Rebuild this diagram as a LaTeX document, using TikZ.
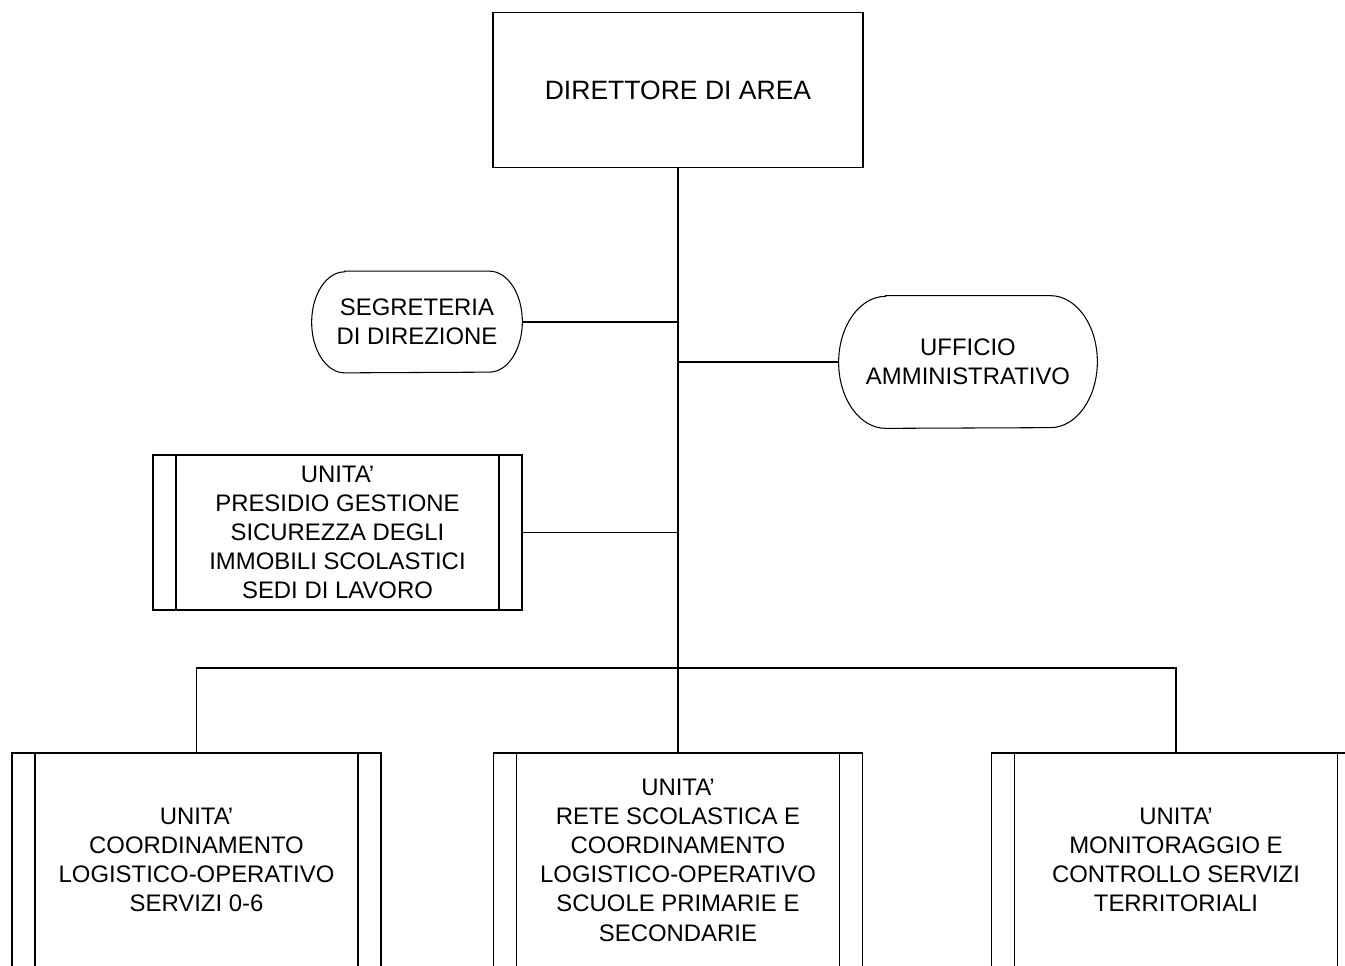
\documentclass[tikz,border=0pt]{standalone}
\usepackage{fontspec}
\setmainfont{Liberation Sans}
\begin{document}
\begin{tikzpicture}[
    every node/.style={align=center, font=\fontsize{13.6}{16.6}\selectfont},
    ufficio/.style={draw, line width=0.6pt, minimum width=#1, inner sep=0pt},
    capo/.style={ufficio=7.4cm, minimum height=3.1cm, font=\fontsize{15.1}{18}\selectfont},
    ovale/.style={inner sep=0pt},
    bordo/.style={line width=0.6pt},
    unita/.style={ufficio=7.38cm, minimum height=#1,
                  path picture={
                    \draw[bordo] ([xshift=0.46cm]path picture bounding box.north west)
                        -- ([xshift=0.46cm]path picture bounding box.south west);
                    \draw[bordo] ([xshift=-0.46cm]path picture bounding box.north east)
                        -- ([xshift=-0.46cm]path picture bounding box.south east);}},
    linea/.style={line width=1.1pt}]
\clip (0,0) rectangle (26.9,-19.32);

\node[capo](dir) at (13.56,-1.8) {DIRETTORE DI AREA};
\node[ovale, minimum width=4.2cm, minimum height=2.02cm](seg) at (8.34,-6.44)
    {SEGRETERIA\\DI DIREZIONE};
\node[ovale, minimum width=5.16cm, minimum height=2.64cm](amm) at (19.36,-7.24)
    {UFFICIO\\AMMINISTRATIVO};
\node[unita=3.1cm](pres) at (6.75,-10.65)
    {UNITA’\\PRESIDIO GESTIONE\\SICUREZZA DEGLI\\IMMOBILI SCOLASTICI\\SEDI DI LAVORO};

\node[unita=4.28cm](u1) at (3.93,-17.2)
    {UNITA’\\COORDINAMENTO\\LOGISTICO-OPERATIVO\\SERVIZI 0-6};
\node[unita=4.28cm](u2) at (13.56,-17.2)
    {UNITA’\\RETE SCOLASTICA E\\COORDINAMENTO\\LOGISTICO-OPERATIVO\\SCUOLE PRIMARIE E\\SECONDARIE};
\node[unita=4.28cm](u3) at (23.52,-17.2)
    {UNITA’\\MONITORAGGIO E\\CONTROLLO SERVIZI\\TERRITORIALI};

% ovali
\draw[bordo] ([xshift=0.66cm]seg.north west) -- ([xshift=-0.66cm]seg.north east)
    arc[start angle=90, end angle=-90, x radius=0.66cm, y radius=1.01cm]
    -- ([xshift=0.66cm]seg.south west)
    arc[start angle=270, end angle=90, x radius=0.66cm, y radius=1.01cm] -- cycle;
\draw[bordo] ([xshift=0.94cm]amm.north west) -- ([xshift=-0.94cm]amm.north east)
    arc[start angle=90, end angle=-90, x radius=0.94cm, y radius=1.32cm]
    -- ([xshift=0.94cm]amm.south west)
    arc[start angle=270, end angle=90, x radius=0.94cm, y radius=1.32cm] -- cycle;

\coordinate (bus) at (13.56,-13.36);

\draw[linea] (dir.south) -- (bus);
\draw[linea] (seg.east) -- (seg.east -| bus);
\draw[linea] (amm.west) -- (amm.west -| bus);
\draw[linea] (pres.east) -- (pres.east -| bus);
\draw[linea] (u1.north) |- (bus) -| (u3.north);
\draw[linea] (bus) -- (u2.north);
\end{tikzpicture}
\end{document}
